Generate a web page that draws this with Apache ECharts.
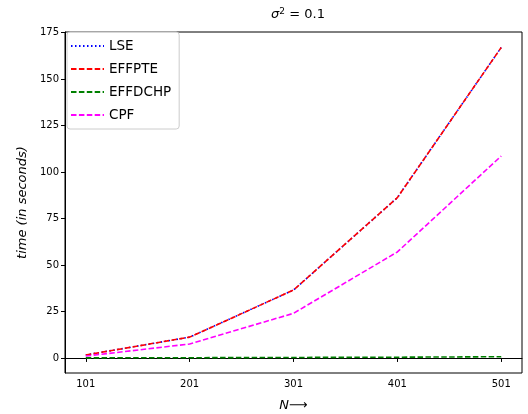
<!DOCTYPE html>
<html>
<head>
<meta charset="utf-8">
<script src="https://cdn.jsdelivr.net/npm/echarts@6/dist/echarts.min.js"></script>
<style>html,body{margin:0;padding:0;background:#fff}#c{width:528px;height:414px}</style>
</head>
<body>
<div id="c"></div>
<script>
const N = [101, 201, 301, 401, 501];
const xTicks = [101, 201, 301, 401, 501];
const yTicks = [0, 25, 50, 75, 100, 125, 150, 175];
const LSE = [1.6, 11.2, 36.5, 86.2, 167.0];
const EFFPTE = [1.6, 11.2, 36.5, 86.2, 167.0];
const EFFDCHP = [0.05, 0.12, 0.25, 0.4, 0.65];
const CPF = [1.0, 7.5, 24.0, 57.0, 108.6];

const font = 'DejaVu Sans';
function pairs(ys){ return N.map((x,i)=>[x, ys[i]]); }
function mk(name, ys, color, type){
  return {name, type:'line', data: pairs(ys), showSymbol:false, symbol:'none',
    lineStyle:{color, width:1.6, type}, itemStyle:{color}, z:2, animation:false};
}
const chart = echarts.init(document.getElementById('c'), null, {renderer:'canvas'});
chart.setOption({
  animation:false,
  title:{text:'{i|σ}{s|2} = 0.1', left:293, textAlign:'center', top:2,
    textStyle:{fontFamily:font, fontSize:13, fontWeight:'normal', color:'#000',
      rich:{i:{fontFamily:font, fontSize:13, fontStyle:'italic', color:'#000'},
            s:{fontFamily:font, fontSize:9, verticalAlign:'top', padding:[0,0,6,0], color:'#000'}}}},
  grid:{left:65, right:6, top:32, bottom:41, outerBoundsMode:'none', containLabel:false,
    show:true, borderColor:'#000', borderWidth:1, backgroundColor:'transparent'},
  legend:{left:67, top:32, orient:'vertical', itemWidth:33, itemHeight:10, itemGap:9,
    padding:[7,8,7,3], backgroundColor:'rgba(255,255,255,0.8)', borderColor:'#ccc', borderWidth:1, borderRadius:3,
    itemStyle:{opacity:0},
    textStyle:{fontFamily:font, fontSize:13.5, color:'#000'},
    data:['LSE','EFFPTE','EFFDCHP','CPF']},
  xAxis:{type:'value', min:81, max:521,
    name:'{i|N}⟶', nameLocation:'middle', nameGap:26,
    nameTextStyle:{fontFamily:font, fontSize:13, color:'#000', rich:{i:{fontFamily:font, fontSize:13, fontStyle:'italic', color:'#000'}}},
    axisLine:{show:true, lineStyle:{color:'#000', width:1}},
    axisTick:{show:true, inside:false, length:4, customValues:xTicks, lineStyle:{color:'#000'}},
    axisLabel:{fontFamily:font, fontSize:10, color:'#000', margin:6, customValues:xTicks},
    splitLine:{show:false}},
  yAxis:{type:'value', min:-8.1, max:175.3,
    name:'time (in seconds)', nameLocation:'middle', nameGap:36, nameRotate:90,
    nameTextStyle:{fontFamily:font, fontSize:13, fontStyle:'italic', color:'#000'},
    axisLine:{show:true, lineStyle:{color:'#000', width:1}},
    axisTick:{show:true, inside:false, length:4, customValues:yTicks, lineStyle:{color:'#000'}},
    axisLabel:{fontFamily:font, fontSize:10, color:'#000', margin:6, customValues:yTicks},
    splitLine:{show:false}},
  series:[
    mk('LSE', LSE, '#0000ff', [1.5,2.5]),
    mk('EFFPTE', EFFPTE, '#ff0000', [5.5,2.4]),
    mk('EFFDCHP', EFFDCHP, '#008000', [5.5,2.4]),
    mk('CPF', CPF, '#ff00ff', [5.5,2.4])
  ]
});
</script>
</body>
</html>
